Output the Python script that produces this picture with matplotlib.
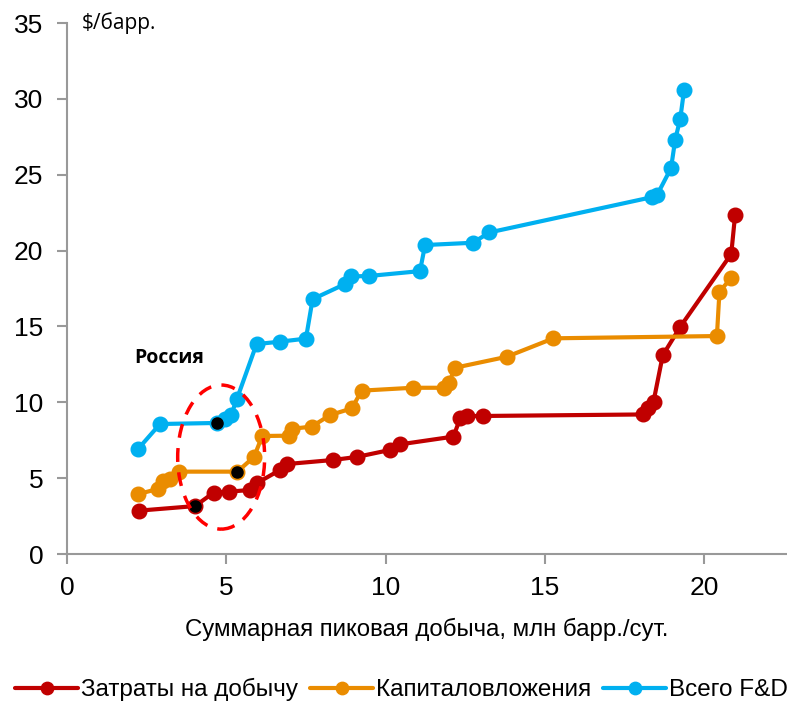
import matplotlib
matplotlib.use("Agg")
import matplotlib.pyplot as plt
from matplotlib.patches import Ellipse

plt.rcParams['font.family'] = ['Liberation Sans', 'DejaVu Sans']

# Затраты на добычу
opex_x = [2.27, 4.02, 4.6, 5.07, 5.75, 5.95, 6.69, 6.9, 8.36, 9.1, 10.14, 10.46,
          12.13, 12.34, 12.55, 13.05, 18.07, 18.25, 18.41, 18.7, 19.25, 20.85, 20.97]
opex_y = [2.86, 3.16, 4.04, 4.11, 4.22, 4.66, 5.54, 5.93, 6.2, 6.4, 6.86, 7.23,
          7.74, 8.94, 9.1, 9.1, 9.2, 9.6, 10.04, 13.1, 14.98, 19.78, 22.33]

# Капиталовложения
capex_x = [2.24, 2.87, 3.02, 3.23, 3.53, 5.35, 5.87, 6.13, 6.96, 7.05, 7.68, 8.26,
           8.94, 9.25, 10.85, 11.82, 11.98, 12.18, 13.8, 15.27, 20.4, 20.48, 20.84]
capex_y = [3.95, 4.3, 4.8, 4.92, 5.43, 5.43, 6.4, 7.78, 7.8, 8.25, 8.4, 9.16,
           9.6, 10.77, 10.96, 10.96, 11.25, 12.28, 13.0, 14.22, 14.37, 17.3, 18.17]

# Всего F&D
fd_x = [2.23, 2.92, 4.71, 4.95, 5.15, 5.33, 5.95, 6.69, 7.5, 7.71, 8.73, 8.91,
        9.48, 11.08, 11.24, 12.74, 13.26, 18.37, 18.52, 18.96, 19.09, 19.25, 19.37]
fd_y = [6.92, 8.57, 8.64, 8.9, 9.15, 10.2, 13.84, 14.0, 14.2, 16.8, 17.8, 18.3,
        18.33, 18.65, 20.37, 20.52, 21.2, 23.53, 23.66, 25.44, 27.3, 28.7, 30.6]

# Россия (выделенные точки)
russia_x = [4.02, 5.35, 4.71]
russia_y = [3.16, 5.43, 8.64]

RED = '#C00000'
ORANGE = '#EA8C00'
BLUE = '#00B0F0'
GREY = '#999999'

fig = plt.figure(figsize=(7.87, 7.01), dpi=100)
ax = fig.add_axes([0.0851, 0.2097, 0.9149, 0.7573])

kw = dict(lw=3, marker='o', markersize=10.5, solid_capstyle='round')
ax.plot(opex_x, opex_y, color=RED, label='Затраты на добычу', **kw)
ax.plot(capex_x, capex_y, color=ORANGE, label='Капиталовложения', **kw)
ax.plot(fd_x, fd_y, color=BLUE, label='Всего F&D', **kw)
ax.plot(russia_x, russia_y, 'o', color='black', markersize=8, zorder=5)

ell = Ellipse((4.84, 6.39), 2.73, 9.5, fill=False, edgecolor='#FF0000',
              lw=2.5, linestyle=(0, (4, 3)), zorder=6)
ax.add_patch(ell)

ax.text(3.2, 12.9, 'Россия', fontsize=14, fontweight='bold',
        family=['Open Sans', 'DejaVu Sans'], ha='center', va='center')
ax.text(0.021, 1.0, '$/барр.', transform=ax.transAxes, fontsize=15,
        family=['Open Sans', 'DejaVu Sans'], ha='left', va='center')

ax.set_xlim(0, 22.6)
ax.set_ylim(0, 35)
ax.set_xticks([0, 5, 10, 15, 20])
ax.set_yticks(range(0, 36, 5))
ax.tick_params(labelsize=19, color=GREY, width=1.5, length=7)
ax.tick_params(axis='y', pad=10)
ax.tick_params(axis='x', pad=9)
for side in ['top', 'right']:
    ax.spines[side].set_visible(False)
for side in ['left', 'bottom']:
    ax.spines[side].set_color(GREY)
    ax.spines[side].set_linewidth(1.5)

ax.set_xlabel('Суммарная пиковая добыча, млн барр./сут.', fontsize=17.3, labelpad=13)

fig.legend(loc='center', bbox_to_anchor=(0.51, 0.016), ncol=3, frameon=False,
           fontsize=17.5, handlelength=2.6, columnspacing=0.5, handletextpad=0.1,
           markerscale=0.85, borderaxespad=0, borderpad=0)

fig.savefig('out.png', dpi=100)
